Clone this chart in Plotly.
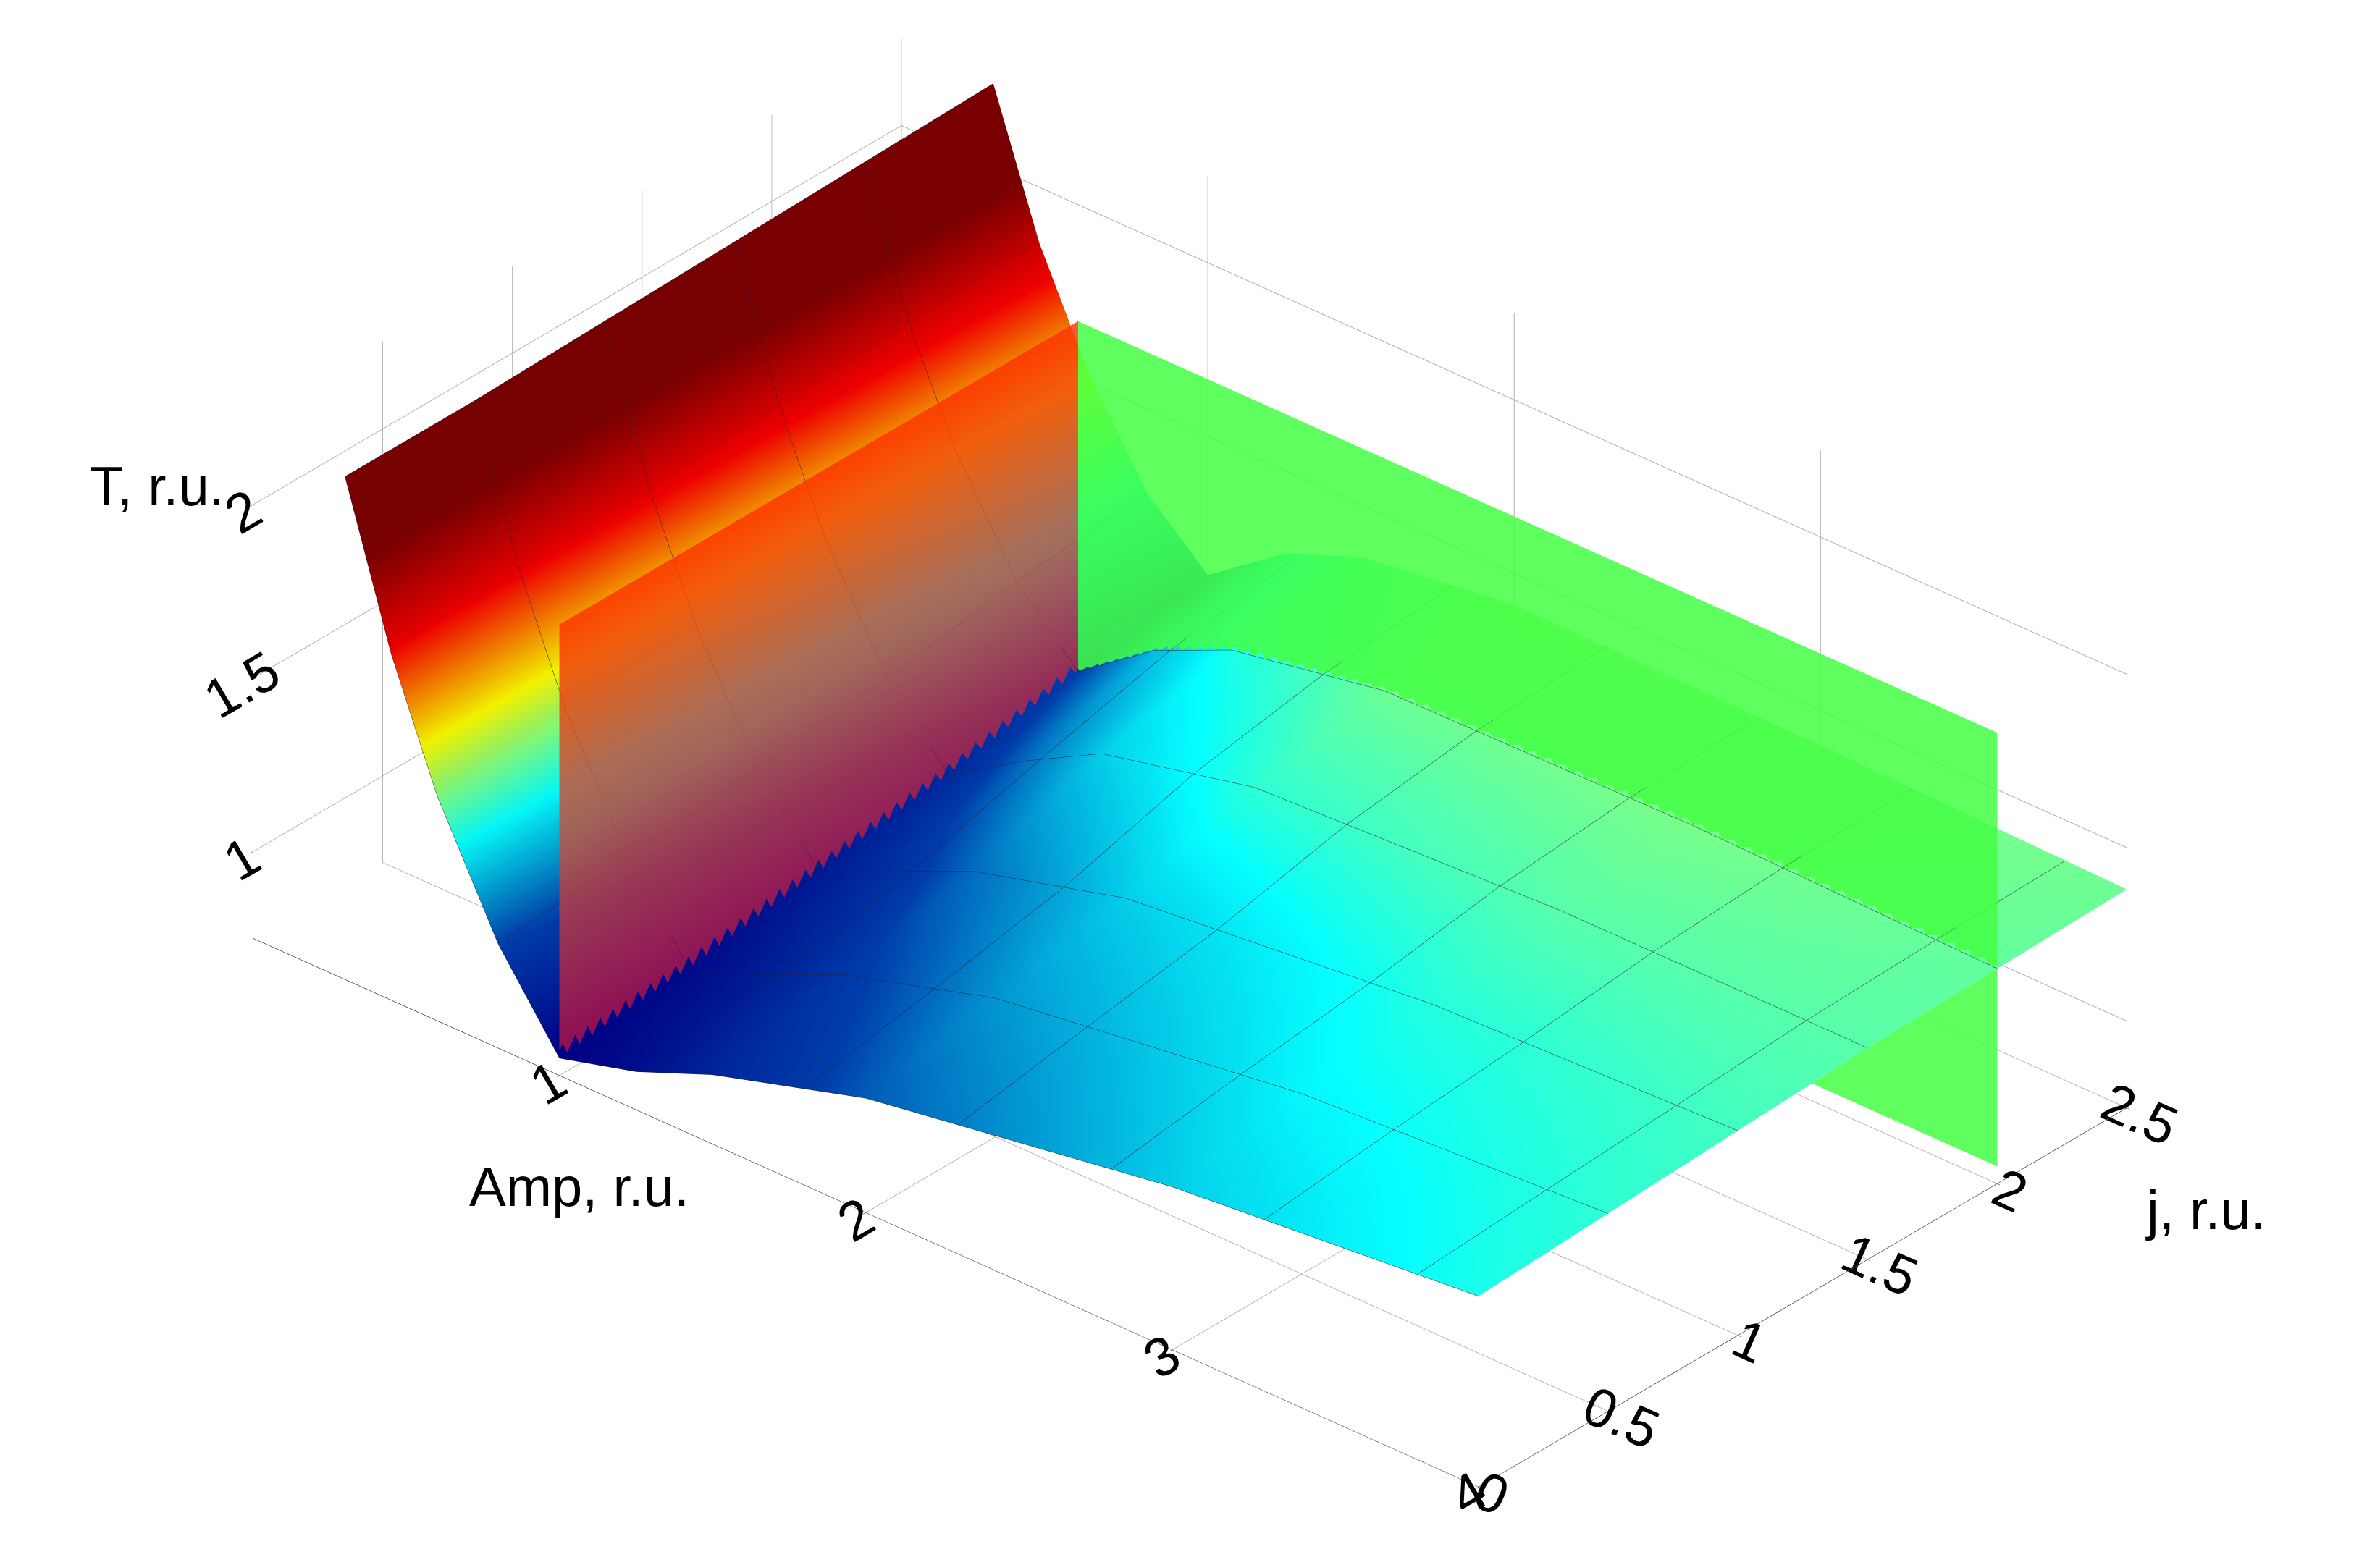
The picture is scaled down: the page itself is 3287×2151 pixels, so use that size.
import plotly.graph_objects as go
import numpy as np

# grade da superficie
amp = [0.3, 0.45, 0.6, 0.8, 1.0, 1.25, 1.5, 2.0, 3.0, 4.0]
jj = [0.0, 0.5, 1.0, 1.5, 2.0, 2.5]
T = [
    [2.20, 1.75, 1.40, 1.05, 0.80, 0.86, 0.95, 1.08, 1.22, 1.30],
    [2.20, 1.76, 1.42, 1.08, 0.84, 0.92, 1.02, 1.15, 1.27, 1.32],
    [2.21, 1.78, 1.45, 1.12, 0.90, 1.00, 1.10, 1.22, 1.31, 1.34],
    [2.22, 1.80, 1.48, 1.16, 0.96, 1.10, 1.22, 1.32, 1.36, 1.36],
    [2.23, 1.82, 1.52, 1.22, 1.04, 1.20, 1.30, 1.38, 1.39, 1.37],
    [2.24, 1.84, 1.55, 1.26, 1.10, 1.26, 1.35, 1.41, 1.40, 1.38],
]

# plano vermelho (Amp = 1) e plano verde (j = 2)
plano_amp = 1.0
plano_j_ini, plano_j_fim = 0.0, 2.0
plano_z = [0.8, 2.05]
verde_j = 2.0
verde_amp = [1.0, 4.0]
verde_z = [0.8, 2.05]

fig = go.Figure()
fig.add_trace(go.Surface(x=amp, y=jj, z=T, colorscale='Jet', cmin=0.8, cmax=2.0,
                         showscale=False, lighting=dict(ambient=0.9, diffuse=0.2, specular=0),
                         contours=dict(x=dict(show=True, color='#223', width=1, start=0.3, end=4, size=0.5),
                                       y=dict(show=True, color='#223', width=1, start=0, end=2.5, size=0.5))))

pj = np.linspace(plano_j_ini, plano_j_fim, 5)
pz = np.linspace(plano_z[0], plano_z[1], 7)
PJ, PZ = np.meshgrid(pj, pz)
fig.add_trace(go.Surface(x=np.full_like(PJ, plano_amp), y=PJ, z=PZ, surfacecolor=PZ,
                         colorscale=[[0, '#b0104a'], [0.5, '#c8503a'], [1, '#ff3000']],
                         showscale=False, opacity=0.8, lighting=dict(ambient=1, diffuse=0, specular=0)))

va = np.array(verde_amp)
vz = np.array(verde_z)
VA, VZ = np.meshgrid(va, vz)
fig.add_trace(go.Surface(x=VA, y=np.full_like(VA, verde_j), z=VZ,
                         colorscale=[[0, '#44ff44'], [1, '#44ff44']], showscale=False, opacity=0.85,
                         lighting=dict(ambient=1, diffuse=0, specular=0)))

eixo = dict(showbackground=False, gridcolor='#aaa', showline=True, linecolor='black', title=dict(text=''),
            ticks='outside', tickcolor='black', tickfont=dict(size=30, family='Arial', color='black'),
            zeroline=False, showspikes=False)
fonte_titulo = dict(size=76, family='Arial', color='black')
fig.update_layout(
    paper_bgcolor='white',
    margin=dict(l=0, r=0, t=0, b=0),
    scene=dict(
        domain=dict(x=[0, 1], y=[0.02, 1]),
        xaxis=dict(eixo, range=[0, 4], tickvals=[1, 2, 3, 4]),
        yaxis=dict(eixo, range=[0, 2.5], tickvals=[0, 0.5, 1, 1.5, 2, 2.5]),
        zaxis=dict(eixo, range=[0.75, 2.25], tickvals=[1, 1.5, 2]),
        aspectmode='manual', aspectratio=dict(x=2.15, y=1.3, z=0.8),
        camera=dict(eye=dict(x=1.05, y=-1.2, z=0.95), projection=dict(type='orthographic')),
    ),
    annotations=[
        dict(text='T, r.u.', x=0.035, y=0.71, xref='paper', yref='paper', showarrow=False, font=fonte_titulo),
        dict(text='Amp, r.u.', x=0.195, y=0.215, xref='paper', yref='paper', showarrow=False, font=fonte_titulo),
        dict(text='j, r.u.', x=0.955, y=0.2, xref='paper', yref='paper', showarrow=False, font=fonte_titulo),
    ],
)
fig.write_html("out.html")
